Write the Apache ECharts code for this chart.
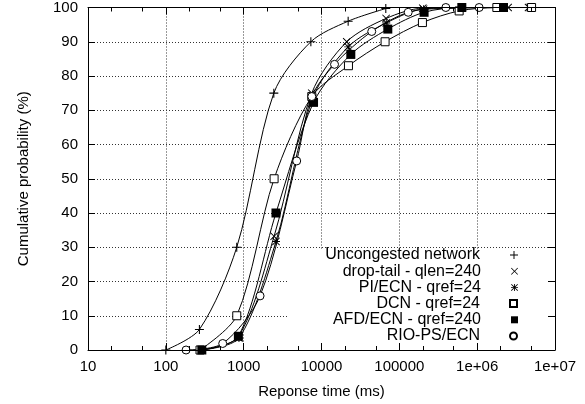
<!DOCTYPE html>
<html><head><meta charset="utf-8">
<script src="https://cdn.jsdelivr.net/npm/echarts@6/dist/echarts.min.js"></script>
<style>html,body{margin:0;padding:0;background:#fff}#c{width:585px;height:404px}</style>
</head><body><div id="c"></div>
<script>
// ---- data ----
var seriesNames = ['Uncongested network','drop-tail - qlen=240','PI/ECN - qref=24','DCN - qref=24','AFD/ECN - qref=240','RIO-PS/ECN'];
var uncongested = [[100,0],[270,6],[815,30],[2440,75],[7300,90],[22000,96],[67000,99.7]];
var dropTail    = [[280,0],[850,3.8],[2460,33.2],[7500,75],[21100,90],[67600,96.8],[200000,99.8],[2500000,100],[4800000,100]];
var piEcn       = [[285,0],[870,3.5],[2600,31.7],[7700,73.5],[22000,88.5],[68000,95.5],[205000,99.5],[4570000,100]];
var dcn         = [[275,0],[815,10],[2460,50],[7500,74],[22200,83],[65600,90],[198000,95.6],[587000,99],[1790000,100],[5000000,100]];
var afdEcn      = [[290,0],[855,4],[2600,40],[7900,72.3],[23800,86.3],[71100,93.7],[208000,98.6],[635000,100],[2180000,100]];
var rioPs       = [[182,0],[538,1.9],[1625,15.8],[4800,55.2],[7500,74],[14700,83.4],[44200,93],[130000,98.6],[396000,100],[1060000,100]];
var xTickLabels = ['10','100','1000','10000','100000','1e+06','1e+07'];
var xMinorTicks = [20,50,200,500,2000,5000,20000,50000,200000,500000,2000000,5000000];
var yTicks = [0,10,20,30,40,50,60,70,80,90,100];

// ---- styles ----
var FONT = 'Liberation Sans, Arial, Helvetica, sans-serif';
var P_PLUS  = 'path://M4.4,0H5.6V4.4H10V5.6H5.6V10H4.4V5.6H0V4.4H4.4Z';
var P_CROSS = 'path://M0.8,0L5,4.2L9.2,0L10,0.8L5.8,5L10,9.2L9.2,10L5,5.8L0.8,10L0,9.2L4.2,5L0,0.8Z';
var P_STAR  = 'path://M4.4,0H5.6V4.4H10V5.6H5.6V10H4.4V5.6H0V4.4H4.4ZM0.8,0L5,4.2L9.2,0L10,0.8L5.8,5L10,9.2L9.2,10L5,5.8L0.8,10L0,9.2L4.2,5L0,0.8Z';
var styles = [
  {symbol:P_PLUS, size:9, lsize:8, item:{color:'#000'}},
  {symbol:P_CROSS, size:8, lsize:7, item:{color:'#000'}},
  {symbol:P_STAR, size:8, lsize:7, item:{color:'#000'}},
  {symbol:'rect', size:8, lsize:7, item:{color:'#fff', borderColor:'#000', borderWidth:1}},
  {symbol:'rect', size:9, lsize:7, item:{color:'#000'}},
  {symbol:'circle', size:8, lsize:7, item:{color:'#fff', borderColor:'#000', borderWidth:1}}
];
var datasets = [uncongested, dropTail, piEcn, dcn, afdEcn, rioPs];

var series = datasets.map(function(d,i){
  return {
    name: seriesNames[i], type:'line', data:d, xAxisIndex:0, yAxisIndex:0,
    smooth:0.3,
    symbol: styles[i].symbol, symbolSize: styles[i].size,
    showAllSymbol:true,
    lineStyle:{color:'#000', width:1},
    itemStyle: styles[i].item,
    emphasis:{disabled:true}, z: 2, animation:false
  };
});

var legendTop = 247, legendStep = 16.2;
var legends = seriesNames.map(function(n,i){
  return {
    orient:'vertical', right:67, top: legendTop + i*legendStep, padding:0,
    align:'right', itemWidth:styles[i].lsize, itemHeight:styles[i].lsize,
    selectedMode:false,
    data:[{name:n, icon:styles[i].symbol}],
    textStyle:{fontFamily:FONT, fontSize:16, color:'#000', lineHeight:16, padding:[0,25,0,0]}
  };
});

var tickAxisBase = function(pos, z, ticks, len, showLine){
  return {type:'value', min:1, max:7, interval:1, position:pos, z:z,
    axisLine:{show:showLine, onZero:false, lineStyle:{color:'#000', width:1}},
    axisTick:{show:true, inside:true, length:len, lineStyle:{color:'#000', width:1}, customValues: ticks},
    axisLabel:{show:false}, splitLine:{show:false}};
};
var majorLog = xTickLabels.map(function(_,i){return i+1;});
var minorLog = xMinorTicks.map(function(v){return Math.log10(v);});

var option = {
  backgroundColor:'#fff',
  animation:false,
  grid:{left:88, right:30, top:7, bottom:54},
  graphic:[{type:'rect', z:1, shape:{x:288, y:249, width:266, height:101}, style:{fill:'#fff'}, silent:true}],
  legend: legends,
  xAxis:[
    {type:'log', logBase:10, min:10, max:10000000, position:'bottom', z:0,
     name:'Reponse time (ms)', nameLocation:'middle', nameGap:34,
     nameTextStyle:{fontFamily:FONT, fontSize:15, color:'#000'},
     axisLine:{show:false}, axisTick:{show:false},
     axisLabel:{fontFamily:FONT, fontSize:15, color:'#000', margin:9,
       formatter:function(v){return xTickLabels[Math.round(Math.log10(v))-1];}},
     splitLine:{show:true, lineStyle:{color:'#333', type:[1,2], width:1}},
     minorTick:{show:false}},
    tickAxisBase('bottom', 3, majorLog, 7, true),
    tickAxisBase('bottom', 3, minorLog, 4, false),
    tickAxisBase('top', 3, majorLog, 7, true),
    tickAxisBase('top', 3, minorLog, 4, false)
  ],
  yAxis:[
    {type:'value', min:0, max:100, interval:10, position:'left', z:0,
     name:'Cumulative probability (%)', nameLocation:'middle', nameGap:57,
     nameTextStyle:{fontFamily:FONT, fontSize:15, color:'#000'},
     axisLine:{show:false}, axisTick:{show:false},
     axisLabel:{fontFamily:FONT, fontSize:15, color:'#000', margin:10,
       customValues: yTicks},
     splitLine:{show:true, lineStyle:{color:'#333', type:[1,2], width:1}}},
    {type:'value', min:0, max:100, interval:10, position:'left', z:3,
     axisLine:{show:true, onZero:false, lineStyle:{color:'#000', width:1}},
     axisTick:{show:true, inside:true, length:7, lineStyle:{color:'#000'}, customValues:yTicks},
     axisLabel:{show:false}, splitLine:{show:false}},
    {type:'value', min:0, max:100, interval:10, position:'right', z:3,
     axisLine:{show:true, onZero:false, lineStyle:{color:'#000', width:1}},
     axisTick:{show:true, inside:true, length:7, lineStyle:{color:'#000'}, customValues:yTicks},
     axisLabel:{show:false}, splitLine:{show:false}}
  ],
  series: series
};
var chart = echarts.init(document.getElementById('c'), null, {renderer:'canvas'});
chart.setOption(option);
</script>
</body></html>
